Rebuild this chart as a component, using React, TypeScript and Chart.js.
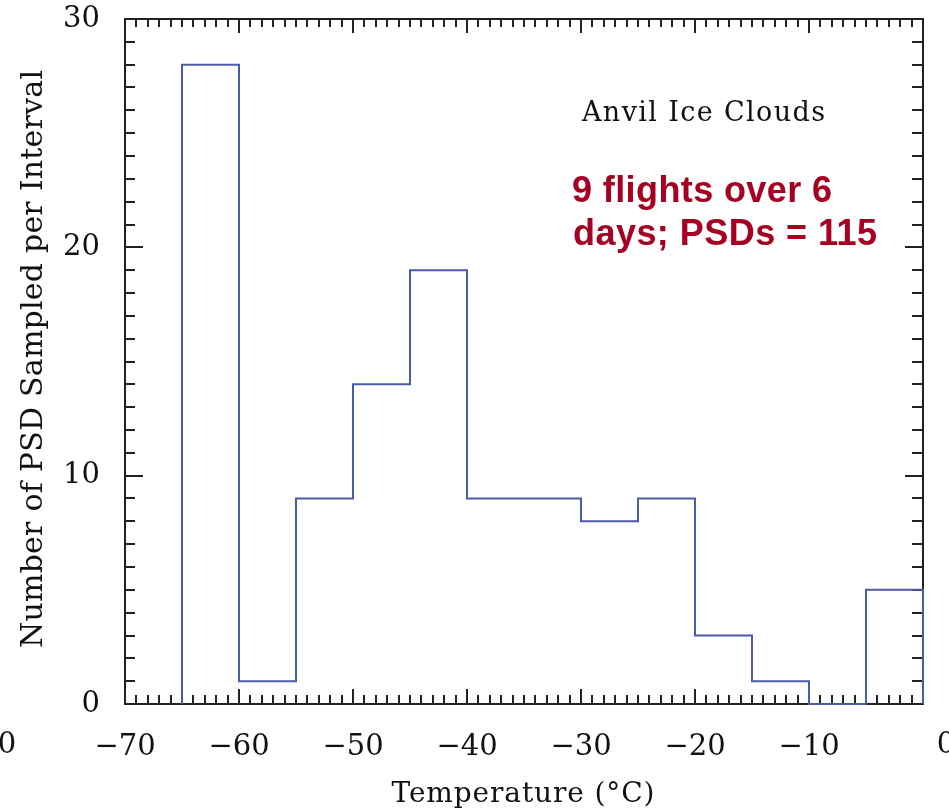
import React, { useEffect, useRef } from 'react';
import { Chart, registerables } from 'chart.js';

Chart.register(...registerables);

// ---- data ----
const binEdges = [-65, -60, -55, -50, -45, -40, -35, -30, -25, -20, -15, -10, -5, 0];
const counts = [28, 1, 9, 14, 19, 9, 9, 8, 9, 3, 1, 0, 5];
const xTickValues = [-70, -60, -50, -40, -30, -20, -10];
const yTickValues = [0, 10, 20, 30];
const xTitle = 'Temperature (\u00B0C)';
const yTitle = 'Number of PSD Sampled per Interval';
const panelLabel = 'Anvil Ice Clouds';
const noteLines = ['9 flights over 6', 'days; PSDs = 115'];
const strayLabels = ['0', '0'];

const SERIF = '"DejaVu Serif", "Liberation Serif", serif';
const SANS = '"Liberation Sans", Arial, sans-serif';

function drawFitted(ctx: CanvasRenderingContext2D, text: string, x: number, y: number, width: number, align: 'left' | 'center') {
  ctx.save();
  (ctx as any).letterSpacing = '0px';
  ctx.textAlign = 'left';
  const w = ctx.measureText(text).width;
  const ls = (width - w) / Math.max(1, text.length - 1);
  (ctx as any).letterSpacing = ls + 'px';
  const startX = align === 'center' ? x - width / 2 : x;
  ctx.fillText(text, startX, y);
  ctx.restore();
}

const frameTicksPlugin = {
  id: 'frameTicks',
  beforeDatasetsDraw(chart: any) {
    const { ctx, chartArea, scales } = chart;
    const xs = scales.x;
    const ys = scales.y;
    ctx.save();
    ctx.strokeStyle = '#222';
    ctx.lineWidth = 2;
    ctx.strokeRect(chartArea.left, chartArea.top, chartArea.right - chartArea.left, chartArea.bottom - chartArea.top);
    ctx.beginPath();
    for (let v = xs.min; v <= xs.max; v += 1) {
      const px = Math.round(xs.getPixelForValue(v));
      const major = v % 10 === 0;
      ctx.moveTo(px, chartArea.bottom);
      ctx.lineTo(px, chartArea.bottom - (major ? 15 : 9));
      ctx.moveTo(px, chartArea.top);
      ctx.lineTo(px, chartArea.top + (major ? 14 : 8));
    }
    for (let v = ys.min; v <= ys.max; v += 1) {
      const py = Math.round(ys.getPixelForValue(v));
      const major = v % 10 === 0;
      ctx.moveTo(chartArea.left, py);
      ctx.lineTo(chartArea.left + (major ? 18 : 10), py);
      ctx.moveTo(chartArea.right, py);
      ctx.lineTo(chartArea.right - (major ? 18 : 11), py);
    }
    ctx.stroke();
    ctx.restore();
  },
  afterDraw(chart: any) {
    const { ctx } = chart;
    ctx.save();
    ctx.fillStyle = '#111';
    ctx.textBaseline = 'alphabetic';
    // x title
    ctx.font = '28px ' + SERIF;
    drawFitted(ctx, xTitle, 523, 802, 263, 'center');
    // y title
    ctx.save();
    ctx.translate(42, 359);
    ctx.rotate(-Math.PI / 2);
    ctx.font = '30px ' + SERIF;
    drawFitted(ctx, yTitle, 0, 0, 578, 'center');
    ctx.restore();
    // panel label
    ctx.font = '27px ' + SERIF;
    drawFitted(ctx, panelLabel, 582, 121, 243, 'left');
    // stray labels from neighbouring panels
    ctx.font = '29px ' + SERIF;
    ctx.textAlign = 'center';
    ctx.textBaseline = 'middle';
    ctx.fillText(strayLabels[0], 7, 745);
    ctx.fillText(strayLabels[1], 946, 745);
    // note
    ctx.textBaseline = 'alphabetic';
    ctx.fillStyle = '#A50021';
    ctx.font = 'bold 36px ' + SANS;
    drawFitted(ctx, noteLines[0], 572, 202, 260, 'left');
    drawFitted(ctx, noteLines[1], 573, 245, 304, 'left');
    ctx.restore();
  },
};

export default function App() {
  const canvasRef = useRef<HTMLCanvasElement | null>(null);

  useEffect(() => {
    if (!canvasRef.current) return;
    const last = binEdges.length - 1;
    const points = [
      { x: binEdges[0], y: 0 },
      ...counts.map((c, i) => ({ x: binEdges[i], y: c })),
      { x: binEdges[last], y: counts[counts.length - 1] },
      { x: binEdges[last], y: 0 },
    ];
    const chart = new Chart(canvasRef.current, {
      type: 'line',
      data: {
        datasets: [
          {
            data: points,
            stepped: 'before',
            borderColor: '#4a5ba8',
            borderWidth: 2,
            pointRadius: 0,
            fill: false,
            clip: 6,
          } as any,
        ],
      },
      options: {
        animation: false,
        responsive: true,
        maintainAspectRatio: false,
        layout: { padding: { top: 19, right: 26, left: 0, bottom: 0 } },
        plugins: { legend: { display: false }, tooltip: { enabled: false } },
        scales: {
          x: {
            type: 'linear',
            min: -70,
            max: 0,
            grid: { display: false, drawTicks: false },
            border: { display: false },
            afterFit: (s: any) => { s.height = 106; s.paddingLeft = 0; s.paddingRight = 0; },
            afterBuildTicks: (s: any) => { s.ticks = xTickValues.map((v) => ({ value: v })); },
            ticks: {
              padding: 26,
              color: '#111',
              font: { family: SERIF, size: 29 },
              maxRotation: 0,
              autoSkip: false,
              callback: (v: any) => String(v).replace('-', '\u2212'),
            },
          },
          y: {
            type: 'linear',
            min: 0,
            max: 30,
            grid: { display: false, drawTicks: false },
            border: { display: false },
            afterFit: (s: any) => { s.width = 125; s.paddingTop = 0; s.paddingBottom = 0; },
            afterBuildTicks: (s: any) => { s.ticks = yTickValues.map((v) => ({ value: v })); },
            ticks: {
              padding: 25,
              color: '#111',
              font: { family: SERIF, size: 29 },
              autoSkip: false,
            },
          },
        },
      },
      plugins: [frameTicksPlugin],
    });
    return () => chart.destroy();
  }, []);

  return (
    <div style={{ position: 'absolute', left: 0, top: 0, width: 949, height: 810, background: '#fff' }}>
      <canvas ref={canvasRef} />
    </div>
  );
}
